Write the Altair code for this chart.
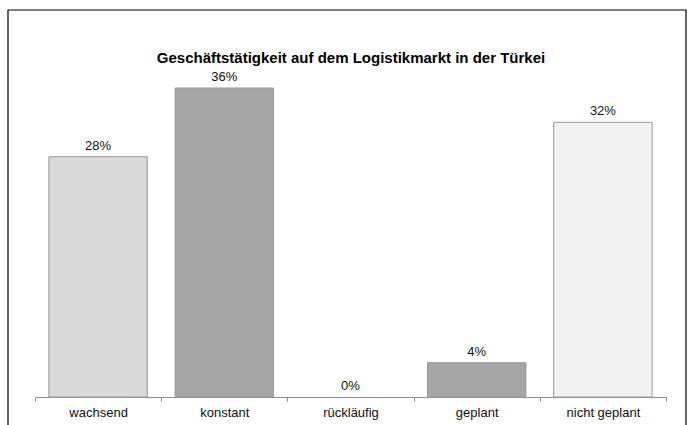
import altair as alt
import pandas as pd

categories = ["wachsend", "konstant", "rückläufig", "geplant", "nicht geplant"]
values = [28, 36, 0, 4, 32]
labels = ["28%", "36%", "0%", "4%", "32%"]
colors = ["#d9d9d9", "#a6a6a6", "#a6a6a6", "#a6a6a6", "#f2f2f2"]
title_text = "Geschäftstätigkeit auf dem Logistikmarkt in der Türkei"

df = pd.DataFrame({"cat": categories, "val": values, "lab": labels, "col": colors})

FONT = "Liberation Sans"

x = alt.X(
    "cat:N",
    sort=categories,
    scale=alt.Scale(paddingInner=0, paddingOuter=0),
    axis=alt.Axis(
        title=None,
        labelAngle=0,
        labelFont=FONT,
        labelFontSize=13,
        labelColor="#111111",
        labelPadding=5,
        domainColor="#8c8c8c",
        tickColor="#8c8c8c",
        tickSize=4,
        tickBand="extent",
        grid=False,
    ),
)
y = alt.Y("val:Q", scale=alt.Scale(domain=[0, 36], nice=False), axis=None)

base = alt.Chart(df)

bars = base.mark_bar(width={"band": 0.78}, stroke="#999999", strokeWidth=1).encode(
    x=x,
    y=y,
    fill=alt.Fill("col:N", scale=None),
    strokeOpacity=alt.condition("datum.val > 0", alt.value(1), alt.value(0)),
)

text = base.mark_text(
    font=FONT, fontSize=13, baseline="alphabetic", dy=-7, color="#111111"
).encode(x=x, y=y, text="lab:N")

title = alt.Chart(alt.Data(values=[{"t": title_text}])).mark_text(
    font=FONT, fontSize=15, fontWeight="bold", baseline="alphabetic", align="center", color="#000000"
).encode(x=alt.value(316), y=alt.value(-25), text="t:N")

frame = alt.Chart(alt.Data(values=[{"a": 1}])).mark_rect(
    fillOpacity=0, stroke="#000000", strokeWidth=1.2, clip=False
).encode(x=alt.value(-27), x2=alt.value(651), y=alt.value(-78), y2=alt.value(350))

chart = (
    alt.layer(frame, bars, text, title)
    .properties(
        width=631,
        height=309,
        autosize=alt.AutoSizeParams(type="none"),
        padding={"left": 35, "top": 88, "right": 25, "bottom": 28},
        background="white",
    )
    .configure_view(stroke=None)
)

chart.save("out.html", embed_options={"renderer": "svg", "actions": False})
